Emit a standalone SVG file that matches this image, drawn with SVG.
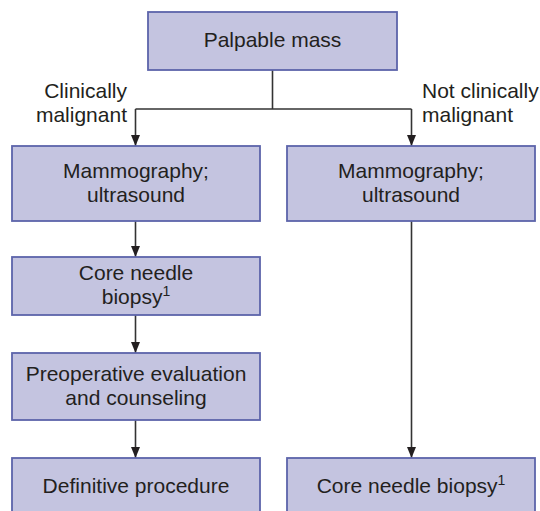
<svg xmlns="http://www.w3.org/2000/svg" width="540" height="511" viewBox="0 0 540 511">
<style>
.box{fill:#c4c4e0;stroke:#5c64aa;stroke-width:1.8}
.t{font-family:"Liberation Sans",Arial,sans-serif;font-size:21px;fill:#231f20}
.c{text-anchor:middle}
.ln{fill:none;stroke:#333;stroke-width:1.6}
.sup{font-size:14px}
</style>
<defs>
<marker id="ah" markerWidth="10" markerHeight="12" refX="11" refY="4.5" orient="auto" markerUnits="userSpaceOnUse">
<path d="M0,0 L11,4.5 L0,9 Z" fill="#231f20"/>
</marker>
</defs>
<rect width="540" height="511" fill="#fff"/>
<g id="connectors">
<path class="ln" d="M272.5,70 V109"/>
<path class="ln" d="M135.5,109 H411.5"/>
<path class="ln" d="M135.5,109 V146" marker-end="url(#ah)"/>
<path class="ln" d="M411.5,109 V146" marker-end="url(#ah)"/>
<path class="ln" d="M135.5,221 V257" marker-end="url(#ah)"/>
<path class="ln" d="M135.5,315 V353" marker-end="url(#ah)"/>
<path class="ln" d="M135.5,420 V458" marker-end="url(#ah)"/>
<path class="ln" d="M411.5,221 V458" marker-end="url(#ah)"/>
</g>
<g id="label-clinically">
<text class="t" text-anchor="end" x="127" y="98">Clinically</text>
<text class="t" text-anchor="end" x="127" y="122">malignant</text>
</g>
<g id="label-not-clinically">
<text class="t" x="422" y="98">Not clinically</text>
<text class="t" x="422" y="122">malignant</text>
</g>
<g id="palpable">
<rect class="box" x="148" y="12" width="249" height="58"/>
<text class="t c" x="272.5" y="47">Palpable mass</text>
</g>
<g id="mammo-left">
<rect class="box" x="12" y="146" width="248" height="75"/>
<text class="t c" x="136" y="178">Mammography;</text>
<text class="t c" x="136" y="202">ultrasound</text>
</g>
<g id="mammo-right">
<rect class="box" x="287" y="146" width="248" height="75"/>
<text class="t c" x="411" y="178">Mammography;</text>
<text class="t c" x="411" y="202">ultrasound</text>
</g>
<g id="core-left">
<rect class="box" x="12" y="257" width="248" height="58"/>
<text class="t c" x="136" y="280">Core needle</text>
<text class="t c" x="136" y="304">biopsy<tspan class="sup" dy="-8">1</tspan></text>
</g>
<g id="preop">
<rect class="box" x="12" y="353" width="248" height="67"/>
<text class="t c" x="136" y="381">Preoperative evaluation</text>
<text class="t c" x="136" y="405">and counseling</text>
</g>
<g id="definitive">
<rect class="box" x="12" y="458" width="248" height="70"/>
<text class="t c" x="136" y="493">Definitive procedure</text>
</g>
<g id="core-right">
<rect class="box" x="287" y="458" width="248" height="70"/>
<text class="t c" x="411" y="493">Core needle biopsy<tspan class="sup" dy="-8">1</tspan></text>
</g>
</svg>
